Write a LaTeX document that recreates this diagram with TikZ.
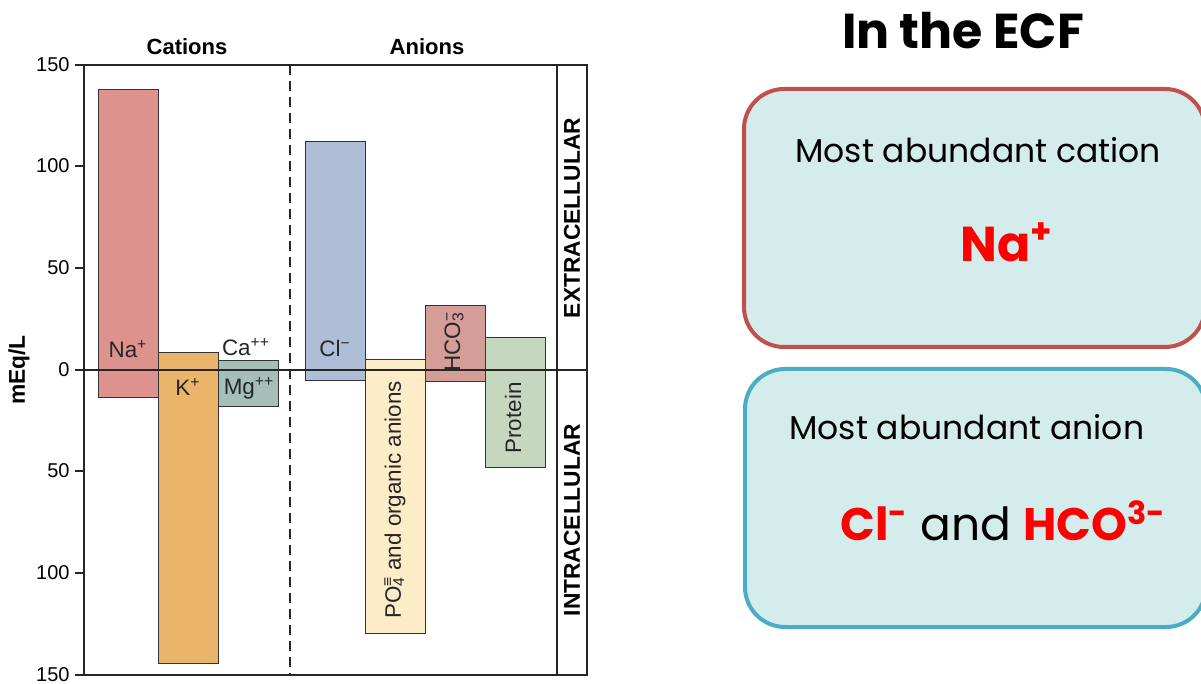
\documentclass[tikz,border=0pt]{standalone}
\usepackage{fontspec}
\setmainfont{Liberation Sans}
\newfontfamily\ecffont{Poppins}
\usetikzlibrary{positioning}
\definecolor{nafill}{HTML}{DE928D}
\definecolor{kfill}{HTML}{EBB46B}
\definecolor{camgfill}{HTML}{A3BFB8}
\definecolor{clfill}{HTML}{ADBED6}
\definecolor{pofill}{HTML}{FCEDC8}
\definecolor{hcofill}{HTML}{D59D98}
\definecolor{protfill}{HTML}{C5D8BF}
\definecolor{boxfill}{HTML}{D5ECEC}
\definecolor{catedge}{HTML}{C0504D}
\definecolor{anedge}{HTML}{4BACC6}
\definecolor{ionred}{HTML}{FF0000}

\begin{document}
\begin{tikzpicture}[x=0.5pt, y=-0.5pt,
  bar/.style={rectangle, draw=black!80, line width=0.6pt, anchor=north west,
    inner sep=0pt, minimum width=30pt},
  axisline/.style={line width=1pt, draw=black!85},
  ticklbl/.style={font=\fontsize{10}{11}\selectfont, anchor=east, inner sep=1pt},
  ionlbl/.style={font=\fontsize{11.2}{12}\selectfont, inner sep=1pt, text=black!85},
  headlbl/.style={font=\bfseries\fontsize{11}{12}\selectfont, anchor=base},
  sidelbl/.style={font=\bfseries\fontsize{11.4}{12}\selectfont, rotate=90},
  ecfbox/.style={rectangle, rounded corners=20pt, fill=boxfill, line width=2pt,
    minimum width=230.5pt, minimum height=129pt, anchor=north west},
  ecftext/.style={font=\ecffont\fontsize{16.5}{19}\selectfont, anchor=base west, inner sep=0pt},
  ionbig/.style={font=\ecffont\bfseries\fontsize{24.5}{28}\selectfont, text=ionred}
]
\useasboundingbox (0,0) rectangle (1201,684);

% bars
\node[bar, fill=nafill, minimum height=154pt] (na) at (98,89) {};
\node[bar, fill=kfill, minimum height=155.5pt] (k) at (158,352) {};
\node[bar, fill=camgfill, minimum height=23pt] (camg) at (218,360) {};
\node[bar, fill=clfill, minimum height=119.5pt] (cl) at (305,141) {};
\node[bar, fill=pofill, minimum height=137pt] (po) at (365,359) {};
\node[bar, fill=hcofill, minimum height=38pt] (hco) at (425,305) {};
\node[bar, fill=protfill, minimum height=65pt] (prot) at (485,337) {};

% frame
\draw[axisline] (84,675) -- (84,65) -- (587,65) -- (587,675) -- (84,675);
\draw[axisline] (557,65) -- (557,675);
\draw[axisline] (75,370) -- (587,370);
\draw[axisline, dashed, dash pattern=on 5pt off 3pt] (290,65) -- (290,675);
\foreach \lbl/\ypos in {150/65, 100/166, 50/268, 0/370, 50/471, 100/573, 150/675}{
  \draw[axisline] (75,\ypos) -- (84,\ypos);
  \node[ticklbl] at (72,\ypos) {\lbl};
}
\node[font=\bfseries\fontsize{11.4}{12}\selectfont, rotate=90] (unit) at (19,370) {mEq/L};
\node[headlbl] (cations) at (187,55) {Cations};
\node[headlbl] (anions) at (427,55) {Anions};
\node[sidelbl] (extra) at (572,218) {EXTRACELLULAR};
\node[sidelbl] (intra) at (572,520) {INTRACELLULAR};

% ion labels
\node[ionlbl] (nalbl) at (128,349) {Na\textsuperscript{+}};
\node[ionlbl] (klbl) at (188,387) {K\textsuperscript{+}};
\node[ionlbl] (calbl) at (246,347) {Ca\textsuperscript{++}};
\node[ionlbl] (mglbl) at (249,388) {Mg\textsuperscript{++}};
\node[ionlbl] (cllbl) at (335,348) {Cl\textsuperscript{−}};
\node[ionlbl, rotate=90] (polbl) at (395,500) {PO\rlap{\textsuperscript{≡}}\textsubscript{4} and organic anions};
\node[ionlbl, rotate=90] (hcolbl) at (454,342) {HCO\rlap{\textsuperscript{−}}\textsubscript{3}};
\node[ionlbl, rotate=90] (protlbl) at (513,418) {Protein};

% ECF summary
\node[font=\ecffont\bfseries\fontsize{24.5}{30}\selectfont, anchor=base] (ecftitle) at (963,49) {In the ECF};
\node[ecfbox, draw=catedge] (catbox) at (742,87) {};
\node[ecfbox, draw=anedge] (anbox) at (743,367) {};
\node[ecftext] (cattxt) at (795,163) {Most abundant cation};
\node[ionbig, anchor=base west, inner sep=0pt] (naion) at (960,262) {Na\textsuperscript{+}};
\node[ecftext] (antxt) at (789,440) {Most abundant anion};
\node[ecftext, font=\ecffont\fontsize{22.8}{26}\selectfont] (anion) at (840,540)
  {\textcolor{ionred}{\bfseries Cl\textsuperscript{-}} and \textcolor{ionred}{\bfseries HCO\textsuperscript{3-}}};

\end{tikzpicture}
\end{document}
